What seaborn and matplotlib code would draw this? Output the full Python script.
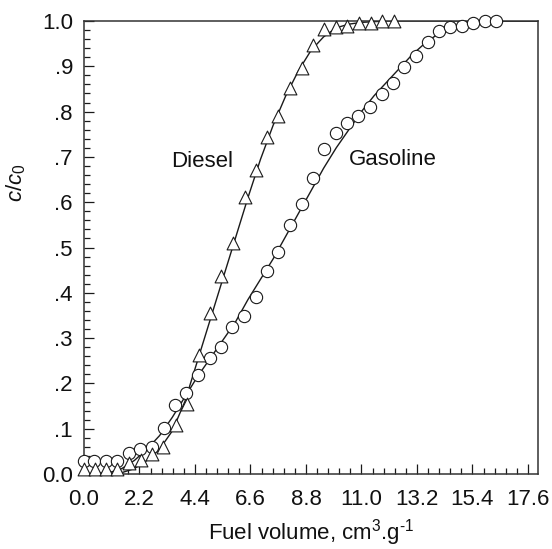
import numpy as np
import pandas as pd
import matplotlib
matplotlib.use("Agg")
import matplotlib.pyplot as plt
import seaborn as sns
from matplotlib.ticker import FixedLocator, MultipleLocator, FixedFormatter

# ---- data ----
diesel_x = [0.0, 0.44, 0.87, 1.32, 1.80, 2.27, 2.70, 3.15, 3.63, 4.10, 4.54, 4.99, 5.45, 5.91,
            6.37, 6.81, 7.26, 7.71, 8.16, 8.64, 9.09, 9.52, 9.99, 10.44, 10.92, 11.37, 11.83, 12.30]
diesel_y = [0.011, 0.011, 0.011, 0.011, 0.024, 0.031, 0.044, 0.060, 0.108, 0.155, 0.263, 0.355,
            0.436, 0.509, 0.612, 0.671, 0.744, 0.790, 0.853, 0.896, 0.946, 0.982, 0.987, 0.990,
            0.995, 0.995, 1.0, 1.0]

gasoline_x = [0.0, 0.41, 0.87, 1.32, 1.77, 2.24, 2.70, 3.17, 3.59, 4.06, 4.53, 4.98, 5.43, 5.88,
              6.33, 6.80, 7.24, 7.70, 8.16, 8.63, 9.07, 9.51, 9.99, 10.44, 10.88, 11.34, 11.81,
              12.27, 12.70, 13.16, 13.62, 14.06, 14.53, 14.99, 15.43, 15.89, 16.35]
gasoline_y = [0.029, 0.029, 0.029, 0.029, 0.047, 0.055, 0.060, 0.102, 0.152, 0.178, 0.219, 0.255,
              0.281, 0.325, 0.349, 0.390, 0.448, 0.491, 0.549, 0.595, 0.653, 0.717, 0.753, 0.774,
              0.790, 0.811, 0.839, 0.864, 0.899, 0.923, 0.954, 0.978, 0.987, 0.989, 0.996, 1.0, 1.0]

# fitted curves
diesel_fit_x = [0.0, 1.5, 2.0, 2.5, 3.0, 3.5, 4.0, 4.5, 5.0, 5.5, 6.0, 6.5, 7.0, 7.5, 8.0, 8.5,
                9.0, 9.5, 10.0, 10.5, 11.0, 12.0, 18.0]
diesel_fit_y = [0.0, 0.003, 0.012, 0.03, 0.055, 0.095, 0.16, 0.25, 0.34, 0.43, 0.52, 0.61, 0.695,
                0.77, 0.835, 0.89, 0.935, 0.965, 0.985, 0.993, 0.997, 1.0, 1.0]

gasoline_fit_x = [0.0, 1.0, 1.5, 2.0, 2.5, 3.0, 3.5, 4.0, 4.5, 5.0, 5.5, 6.0, 6.5, 7.0, 7.5, 8.0,
                  8.5, 9.0, 9.5, 10.0, 10.5, 11.0, 11.5, 12.0, 12.5, 13.0, 13.5, 14.0, 14.5,
                  15.0, 15.5, 18.0]
gasoline_fit_y = [0.0, 0.003, 0.012, 0.03, 0.055, 0.085, 0.125, 0.17, 0.215, 0.255, 0.295, 0.335,
                  0.385, 0.43, 0.475, 0.525, 0.575, 0.625, 0.675, 0.72, 0.76, 0.80, 0.835, 0.865,
                  0.895, 0.925, 0.95, 0.97, 0.985, 0.995, 1.0, 1.0]

x_ticks = [0.0, 2.2, 4.4, 6.6, 8.8, 11.0, 13.2, 15.4, 17.6]
x_tick_labels = ["0.0", "2.2", "4.4", "6.6", "8.8", "11.0", "13.2", "15.4", "17.6"]
y_ticks = [0.0, 0.1, 0.2, 0.3, 0.4, 0.5, 0.6, 0.7, 0.8, 0.9, 1.0]
y_tick_labels = ["0.0", ".1", ".2", ".3", ".4", ".5", ".6", ".7", ".8", ".9", "1.0"]

# ---- style ----
sns.set_style("ticks")
plt.rcParams["font.family"] = ["Liberation Sans", "DejaVu Sans"]
plt.rcParams["mathtext.fontset"] = "custom"
plt.rcParams["mathtext.rm"] = "Liberation Sans"
plt.rcParams["mathtext.it"] = "Liberation Sans:italic"

fig = plt.figure(figsize=(5.52, 5.49), dpi=100)
ax = fig.add_axes([84 / 552, 75 / 549, 454 / 552, 453 / 549])

ink = "#1a1a1a"
txt = "#111111"
fs = 16

dfit = pd.DataFrame({"x": diesel_fit_x, "y": diesel_fit_y})
gfit = pd.DataFrame({"x": gasoline_fit_x, "y": gasoline_fit_y})
sns.lineplot(data=dfit, x="x", y="y", ax=ax, color=ink, linewidth=1.0, sort=False, zorder=2)
sns.lineplot(data=gfit, x="x", y="y", ax=ax, color=ink, linewidth=1.0, sort=False, zorder=2)

dpts = pd.DataFrame({"x": diesel_x, "y": diesel_y})
gpts = pd.DataFrame({"x": gasoline_x, "y": gasoline_y})
sns.scatterplot(data=gpts, x="x", y="y", ax=ax, marker="o", s=78, facecolor="white",
                edgecolor=ink, linewidth=0.8, zorder=3, clip_on=False)
sns.scatterplot(data=dpts, x="x", y="y", ax=ax, marker="^", s=85, facecolor="white",
                edgecolor=ink, linewidth=0.8, zorder=4, clip_on=False)

ax.set_xlim(0, 18.0)
ax.set_ylim(0, 1.0)

ax.xaxis.set_major_locator(FixedLocator(x_ticks))
ax.xaxis.set_major_formatter(FixedFormatter(x_tick_labels))
ax.xaxis.set_minor_locator(MultipleLocator(0.44))
ax.yaxis.set_major_locator(FixedLocator(y_ticks))
ax.yaxis.set_major_formatter(FixedFormatter(y_tick_labels))
ax.yaxis.set_minor_locator(MultipleLocator(0.02))

ax.tick_params(which="both", direction="in", color=ink, width=0.9, top=False, right=False)
ax.tick_params(which="major", length=7, labelsize=fs, labelcolor=txt)
ax.tick_params(axis="y", which="major", pad=8)
ax.tick_params(axis="x", which="major", pad=11)
ax.tick_params(which="minor", length=4)

for sp in ax.spines.values():
    sp.set_visible(True)
    sp.set_color("#333333")
    sp.set_linewidth(1.1)

ax.set_xlabel(r"Fuel volume, cm$^{3}$.g$^{\text{-}1}$", fontsize=fs, color=txt)
ax.set_ylabel(r"$c$/$c_{0}$", fontsize=fs, color=txt)
ax.xaxis.set_label_coords(0.501, -0.096)
ax.yaxis.set_label_coords(-0.124, 0.642)

ax.text(4.70, 0.69, "Diesel", fontsize=fs, ha="center", va="center", color=txt)
ax.text(12.24, 0.695, "Gasoline", fontsize=fs, ha="center", va="center", color=txt)

fig.savefig("out.png", dpi=100)
